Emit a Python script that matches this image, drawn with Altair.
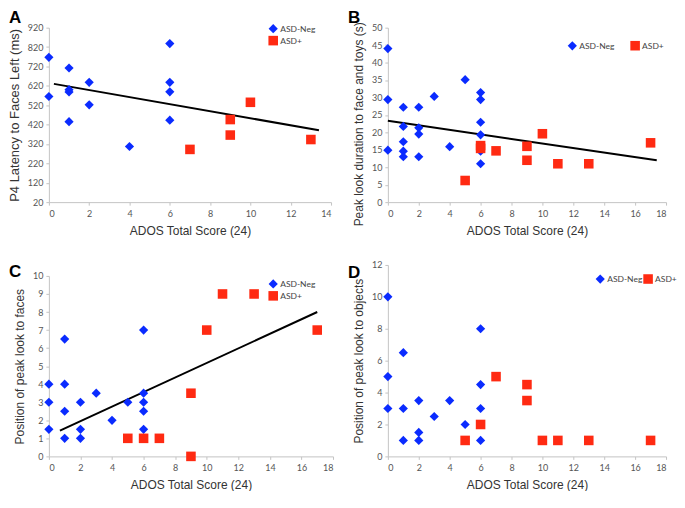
import altair as alt
import pandas as pd

# ---------------- data ----------------
groups = ["ASD-Neg", "ASD+"]

A_neg_x = [0, 0, 1, 1, 1, 1, 2, 2, 4, 6, 6, 6, 6]
A_neg_y = [767, 565, 712, 600, 588, 435, 638, 522, 307, 838, 638, 589, 443]
A_pos_x = [7, 9, 9, 10, 13]
A_pos_y = [292, 446, 366, 535, 343]
A_line_x = [0.25, 13.4]
A_line_y = [630, 391]

B_neg_x = [0, 0, 0, 1, 1, 1, 1, 1, 2, 2, 2, 2, 3, 4, 5, 6, 6, 6, 6, 6, 6]
B_neg_y = [44, 29.4, 14.9, 27.2, 21.7, 17.3, 14.6, 13, 27.2, 21.3, 19.5, 13,
           30.3, 15.9, 35.1, 31.4, 29.4, 22.9, 19.3, 14.6, 11.0]
B_pos_x = [5, 6, 6, 7, 9, 9, 10, 11, 13, 17]
B_pos_y = [6.2, 16.2, 15.4, 14.7, 16, 12, 19.6, 11, 11, 17]
B_line_x = [0, 17.4]
B_line_y = [23.3, 12]

C_neg_x = [0, 0, 0, 1, 1, 1, 1, 2, 2, 2, 3, 4, 5, 6, 6, 6, 6, 6]
C_neg_y = [4, 3, 1.5, 6.5, 4, 2.5, 1, 3, 1.5, 1, 3.5, 2, 3, 7, 3.5, 3, 2.5, 1.5]
C_pos_x = [5, 6, 7, 9, 9, 10, 11, 13, 17]
C_pos_y = [1, 1, 1, 3.5, 0, 7, 9, 9, 7]
C_line_x = [0.7, 17.0]
C_line_y = [1.43, 8.0]

D_neg_x = [0, 0, 0, 1, 1, 1, 2, 2, 2, 3, 4, 5, 6, 6, 6, 6]
D_neg_y = [10, 5, 3, 6.5, 3, 1, 3.5, 1.5, 1, 2.5, 3.5, 2, 8, 4.5, 3, 1]
D_pos_x = [5, 6, 7, 9, 9, 10, 11, 13, 17]
D_pos_y = [1, 2, 5, 4.5, 3.5, 1, 1, 1, 1]

x_title = "ADOS Total Score (24)"

BLUE = "#0a2bff"
RED = "#ff2a12"

TICK_FONT = "Lato"
TITLE_FONT = "Liberation Sans"


def points_df(nx, ny, px, py):
    return pd.DataFrame({
        "x": list(nx) + list(px),
        "y": list(ny) + list(py),
        "group": [groups[0]] * len(nx) + [groups[1]] * len(px),
    })


def panel(letter, letter_dy, nx, ny, px, py, lx, ly, xmax, ydom,
          ystep, ytitle, w, h, lgx, lgy, direction, colpad,
          ytitle_size=12, ytitle_shift=0):
    df = points_df(nx, ny, px, py)
    xvals = list(range(0, xmax + 1, 2))
    yvals = []
    v = ydom[0]
    while v <= ydom[1] + 1e-9:
        yvals.append(v)
        v += ystep
    xs = alt.Scale(domain=[0, xmax], nice=False, zero=False)
    ys = alt.Scale(domain=list(ydom), nice=False, zero=False)
    xax = alt.Axis(values=xvals, title=x_title, labelPadding=4, titlePadding=7,
                   labelOverlap=False)
    yax_kw = dict(values=yvals, title=ytitle, labelPadding=3, titlePadding=6,
                  labelOverlap=False, titleFontSize=ytitle_size)
    if ytitle_shift:
        yax_kw["titleY"] = h / 2 + ytitle_shift
    yax = alt.Axis(**yax_kw)

    leg = alt.Legend(title=None, orient="none", legendX=lgx, legendY=lgy,
                     direction=direction, symbolSize=30, labelFont=TICK_FONT,
                     labelFontSize=8.5, labelColor="#444444", rowPadding=2,
                     columnPadding=colpad, symbolStrokeWidth=0, labelOffset=2,
                     padding=0, gridAlign="each",
                     columns=(1 if direction == "vertical" else 2))

    pts = alt.Chart(df).mark_point(filled=True, opacity=1, strokeWidth=0).encode(
        x=alt.X("x:Q", scale=xs, axis=xax),
        y=alt.Y("y:Q", scale=ys, axis=yax),
        color=alt.Color("group:N",
                        scale=alt.Scale(domain=groups, range=[BLUE, RED]),
                        legend=leg),
        shape=alt.Shape("group:N",
                        scale=alt.Scale(domain=groups, range=["diamond", "square"]),
                        legend=leg),
        size=alt.Size("group:N",
                      scale=alt.Scale(domain=groups, range=[85, 92]),
                      legend=None),
    )
    lab = alt.Chart(pd.DataFrame({"t": [letter]})).mark_text(
        font=TITLE_FONT, fontSize=17, fontWeight="bold", color="black",
        align="left", baseline="alphabetic",
    ).encode(text="t:N", x=alt.value(-40), y=alt.value(letter_dy))

    layers = [pts, lab]
    if lx is not None:
        ldf = pd.DataFrame({"x": lx, "y": ly})
        line = alt.Chart(ldf).mark_line(color="black", strokeWidth=2).encode(
            x=alt.X("x:Q", scale=xs, axis=xax),
            y=alt.Y("y:Q", scale=ys, axis=yax),
        )
        layers = [line, pts, lab]
    return alt.layer(*layers).properties(width=w, height=h)


pA = panel("A", -5, A_neg_x, A_neg_y, A_pos_x, A_pos_y, A_line_x, A_line_y,
           14, (20, 920), 100, "P4 Latency to Faces Left (ms)",
           283, 175, 220, -4, "vertical", 6, ytitle_size=13)
pB = panel("B", -5, B_neg_x, B_neg_y, B_pos_x, B_pos_y, B_line_x, B_line_y,
           18, (0, 50), 5, "Peak look duration to face and toys (s)",
           279, 175, 180, 13, "horizontal", 15, ytitle_size=12, ytitle_shift=9)
pC = panel("C", 1, C_neg_x, C_neg_y, C_pos_x, C_pos_y, C_line_x, C_line_y,
           18, (0, 10), 1, "Position of peak look to faces",
           285, 181, 220, 3, "vertical", 6)
pD = panel("D", 13, D_neg_x, D_neg_y, D_pos_x, D_pos_y, None, None,
           18, (0, 12), 2, "Position of peak look to objects",
           279, 192, 208, 9, "horizontal", 0)

col1 = alt.vconcat(pA, pC, spacing=27).resolve_scale(
    color="independent", shape="independent", size="independent")
col2 = alt.vconcat(pB, pD, spacing=25).resolve_scale(
    color="independent", shape="independent", size="independent")

chart = alt.hconcat(col1, col2, spacing=14).resolve_scale(
    color="independent", shape="independent", size="independent"
).configure_view(stroke=None).configure_axis(
    grid=False,
    domainColor="#c4c4c4",
    tickColor="#c4c4c4",
    tickSize=3,
    labelFont=TICK_FONT,
    labelFontSize=9,
    labelColor="#555555",
    labelOverlap=False,
    titleFont=TITLE_FONT,
    titleFontSize=12,
    titleFontWeight="normal",
    titleColor="#333333",
).properties(padding=0, background="white")

chart.save("out.html", embed_options={"renderer": "svg", "actions": False})
